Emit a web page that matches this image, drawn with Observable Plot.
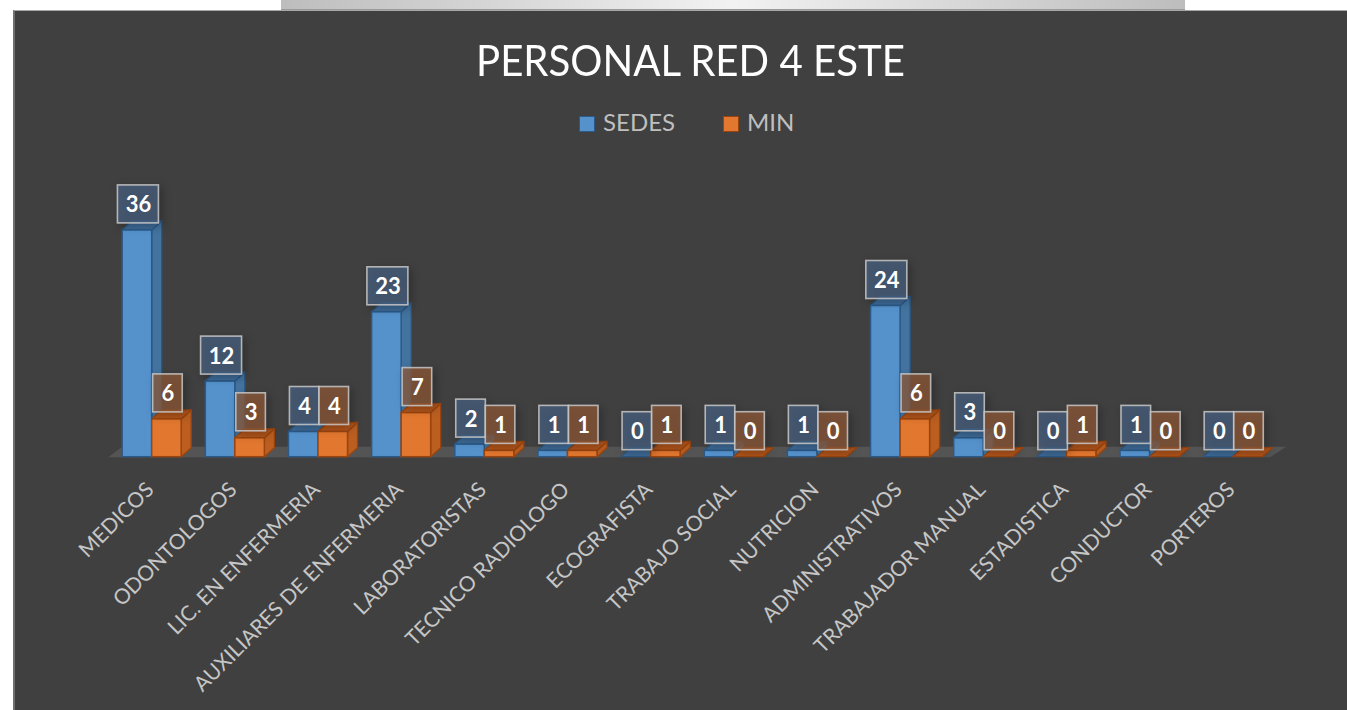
<!DOCTYPE html>
<html>
<head>
<meta charset="utf-8">
<script src="https://cdn.jsdelivr.net/npm/d3@7"></script>
<script src="https://cdn.jsdelivr.net/npm/@observablehq/plot@0.6"></script>
<style>
  html, body { margin: 0; padding: 0; background: #ffffff; }
  #page { position: relative; width: 1347px; height: 710px; overflow: hidden; background: #ffffff; font-family: Lato, "Open Sans", sans-serif; }
  #topbar { position: absolute; left: 281px; top: 0; width: 904px; height: 10px;
            background: linear-gradient(to right, #bdbdbd, #f2f2f2 50%, #bdbdbd); border-bottom: 1px solid #9a9a9a; box-sizing: border-box; }
  #panel { position: absolute; left: 13px; top: 10px; right: 0; bottom: 0; background: #404040;
           border-left: 2px solid #707070; border-top: 1px solid #a8a8a8; }
  #title { position: absolute; left: 476px; top: 39px; font-size: 42px; line-height: 1; color: #ffffff; white-space: nowrap; font-weight: 400; transform-origin: left top; }
  .sw { position: absolute; top: 116px; width: 16px; height: 16px; box-sizing: border-box; }
  .lt { position: absolute; top: 110px; font-size: 24px; line-height: 1; color: #bfbfbf; white-space: nowrap; }
  #chart { position: absolute; left: 0; top: 150px; }
  #chart svg { overflow: visible; }
</style>
</head>
<body>
<div id="page">
  <div id="panel"></div>
  <div id="topbar"></div>
  <div id="title">PERSONAL RED 4 ESTE</div>
  <div id="legend"></div>
  <div id="chart"></div>
</div>
<script>
// ---------- data ----------
const categories = ["MEDICOS","ODONTOLOGOS","LIC. EN ENFERMERIA","AUXILIARES DE ENFERMERIA","LABORATORISTAS","TECNICO RADIOLOGO","ECOGRAFISTA","TRABAJO SOCIAL","NUTRICION","ADMINISTRATIVOS","TRABAJADOR MANUAL","ESTADISTICA","CONDUCTOR","PORTEROS"];
const sedes = [36,12,4,23,2,1,0,1,1,24,3,0,1,0];
const minVals = [6,3,4,7,1,1,1,0,0,6,0,1,0,0];
const seriesNames = ["SEDES","MIN"];
const seriesColors = {SEDES: "#5592cc", MIN: "#e2772f"};

// ---------- styles ----------
const faceStyle = {
  SEDES: {front: "#5592cc", side: "#43739f", top: "#3f6c99", stroke: "#2b5a88"},
  MIN:   {front: "#e2772f", side: "#bb5e20", top: "#b4561b", stroke: "#9a4510"}
};
const labelFill = {SEDES: "#4a6382", MIN: "#905a38"};
const barW = 0.355;         // bar width in category units
const DX = 10, DY = 9;      // 3D depth in px

const rows = categories.flatMap((c, i) => [
  {cat: c, i, serie: "SEDES", v: sedes[i]},
  {cat: c, i, serie: "MIN", v: minVals[i]}
]);
const left = d => d.serie === "SEDES" ? d.i - barW : d.i;
const mid = d => left(d) + barW / 2;

// ---------- legend ----------
const legend = document.getElementById("legend");
const legendPos = {SEDES: {sw: 579, t: 603}, MIN: {sw: 723, t: 747}};
for (const s of seriesNames) {
  const sw = document.createElement("div");
  sw.className = "sw";
  sw.style.left = legendPos[s].sw + "px";
  sw.style.background = seriesColors[s];
  sw.style.border = "1.5px solid " + faceStyle[s].stroke;
  legend.appendChild(sw);
  const t = document.createElement("div");
  t.className = "lt";
  t.style.left = legendPos[s].t + "px";
  t.textContent = s;
  legend.appendChild(t);
}

// ---------- chart ----------
const n = categories.length;
const baseY = 306.7, pxPerUnit = 6.3;

function floorRender(index, scales) {
  const g = d3.create("svg:g");
  const xL = scales.x(-0.5), xR = scales.x(n - 0.55), y0 = scales.y(0);
  g.append("path")
    .attr("d", `M${xL - 2},${y0 + 0.5}L${xL + 12},${y0 - 10}L${xR + 16},${y0 - 10}L${xR},${y0 + 0.5}Z`)
    .attr("fill", "#545454");
  return g.node();
}

function barsRender(index, scales, values) {
  const g = d3.create("svg:g");
  for (const i of index) {
    const s = faceStyle[rows[i].serie];
    const L = values.x1[i], R = values.x2[i], B = values.y1[i], T = values.y2[i];
    g.append("path")
      .attr("d", `M${R},${B}L${R + DX},${B - DY}L${R + DX},${T - DY}L${R},${T}Z`)
      .attr("fill", s.side).attr("stroke", s.stroke).attr("stroke-width", 1.3).attr("stroke-linejoin", "round");
    g.append("path")
      .attr("d", `M${L},${T}L${L + DX},${T - DY}L${R + DX},${T - DY}L${R},${T}Z`)
      .attr("fill", s.top).attr("stroke", s.stroke).attr("stroke-width", 1.3).attr("stroke-linejoin", "round");
    g.append("rect")
      .attr("x", L).attr("y", T).attr("width", R - L).attr("height", Math.max(0, B - T))
      .attr("fill", s.front).attr("stroke", s.stroke).attr("stroke-width", 1.5);
  }
  return g.node();
}

function boxesRender(index, scales, values) {
  const g = d3.create("svg:g").style("filter", "drop-shadow(3px 3px 4px rgba(0,0,0,0.35))");
  for (const i of index) {
    const d = rows[i];
    const w = String(d.v).length > 1 ? 41 : 29.6, h = 38;
    const cx = values.x[i] + 1, cy = values.y[i] - 26;
    g.append("rect")
      .attr("x", cx - w / 2).attr("y", cy - h / 2).attr("width", w).attr("height", h)
      .attr("fill", labelFill[d.serie]).attr("fill-opacity", 0.72)
      .attr("stroke", "#c8c8c8").attr("stroke-opacity", 0.85).attr("stroke-width", 1.6);
  }
  return g.node();
}

const chart = Plot.plot({
  width: 1347,
  height: 560,
  margin: 0,
  style: {background: "transparent", fontFamily: "Lato, 'Open Sans', sans-serif", overflow: "visible"},
  x: {type: "linear", domain: [-0.5, n - 0.5], range: [110.1, 1274.3], axis: null},
  y: {type: "linear", domain: [0, 40], range: [baseY, baseY - 40 * pxPerUnit], axis: null},
  marks: [
    Plot.ruleY([0], {stroke: "none", render: floorRender}),
    Plot.rect(rows, {x1: left, x2: d => left(d) + barW, y1: 0, y2: "v", render: barsRender}),
    Plot.text(rows, {x: mid, y: "v", text: d => String(d.v), render: boxesRender}),
    Plot.text(rows, {x: d => mid(d) + 1 / 83, y: "v", text: d => String(d.v), dy: -25, fill: "#ffffff",
                     fontWeight: "bold", fontSize: 22}),
    Plot.text(categories, {x: (d, i) => i, y: 0, text: d => d, rotate: -45, textAnchor: "end",
                           dx: -2, dy: 29, fill: "#c6c6c6", fontSize: 21})
  ]
});
document.getElementById("chart").appendChild(chart);

// fit title to measured width of the reference
const title = document.getElementById("title");
const tw = title.getBoundingClientRect().width;
if (tw > 0) title.style.transform = `scaleX(${429 / tw})`;
</script>
</body>
</html>
